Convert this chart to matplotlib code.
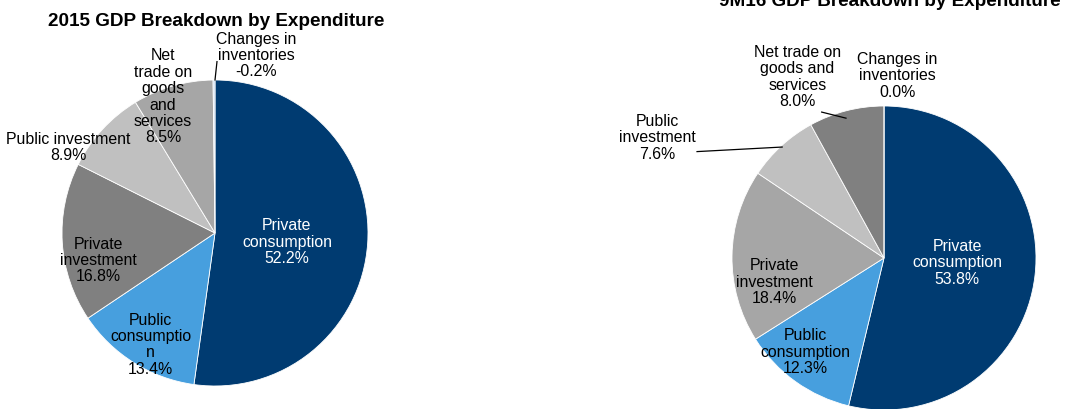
import matplotlib.pyplot as plt

plt.rcParams['font.family'] = ['Liberation Sans', 'DejaVu Sans']

# GDP shares by expenditure, clockwise from 12 o'clock
labels_2015 = ['Private\nconsumption', 'Public\nconsumptio\nn', 'Private\ninvestment',
               'Public investment', 'Net\ntrade on\ngoods\nand\nservices', 'Changes in\ninventories']
shares_2015 = [52.2, 13.4, 16.8, 8.9, 8.5, -0.2]

labels_9m16 = ['Private\nconsumption', 'Public\nconsumption', 'Private\ninvestment',
               'Public\ninvestment', 'Net trade on\ngoods and\nservices', 'Changes in\ninventories']
shares_9m16 = [53.8, 12.3, 18.4, 7.6, 8.0, 0.0]

colors_2015 = ['#003B71', '#479FDE', '#808080', '#C0C0C0', '#A6A6A6', '#C6D9F1']
colors_9m16 = ['#003B71', '#479FDE', '#A6A6A6', '#C0C0C0', '#808080', '#C6D9F1']

# label centres in pie-radius units
pos_2015 = [(0.47, -0.06), (-0.42, -0.73), (-0.76, -0.18), (-0.96, 0.56), (-0.34, 0.89), (0.27, 1.16)]
pos_9m16 = [(0.48, -0.03), (-0.52, -0.62), (-0.72, -0.16), (-1.49, 0.79), (-0.57, 1.19), (0.09, 1.2)]
text_colors = ['white', 'black', 'black', 'black', 'black', 'black']

W, H = 1082, 409
fig = plt.figure(figsize=(W / 100, H / 100), dpi=100)


def draw_pie(cx, cy, r, shares, labels, colors, positions, title, title_xy, leaders):
    ax = fig.add_axes([(cx - r) / W, (H - cy - r) / H, 2 * r / W, 2 * r / H])
    sizes = [abs(v) for v in shares]
    ax.pie(sizes, colors=colors, startangle=90, counterclock=False, radius=1,
           wedgeprops=dict(edgecolor='white', linewidth=0.6))
    ax.set_xlim(-1, 1)
    ax.set_ylim(-1, 1)
    ax.axis('off')
    for lab, val, (x, y), tc in zip(labels, shares, positions, text_colors):
        ax.text(x, y, f'{lab}\n{val:.1f}%', ha='center', va='center', fontsize=11.4,
                color=tc, linespacing=1.12, clip_on=False)
    for (x0, y0), (x1, y1) in leaders:
        ax.plot([x0, x1], [y0, y1], color='black', lw=0.9, clip_on=False)
    fig.text(title_xy[0] / W, 1 - title_xy[1] / H, title, ha='center', va='center',
             fontsize=13.6, fontweight='bold')


draw_pie(215, 233, 153, shares_2015, labels_2015, colors_2015, pos_2015,
         '2015 GDP Breakdown by Expenditure', (216, 21),
         [((0.0, 1.0), (0.013, 1.12))])
draw_pie(884, 258, 152, shares_9m16, labels_9m16, colors_9m16, pos_9m16,
         '9M16 GDP Breakdown by Expenditure', (890, 2),
         [((-1.23, 0.70), (-0.67, 0.73)), ((-0.41, 0.96), (-0.25, 0.92))])

fig.savefig('out.png', dpi=100)
